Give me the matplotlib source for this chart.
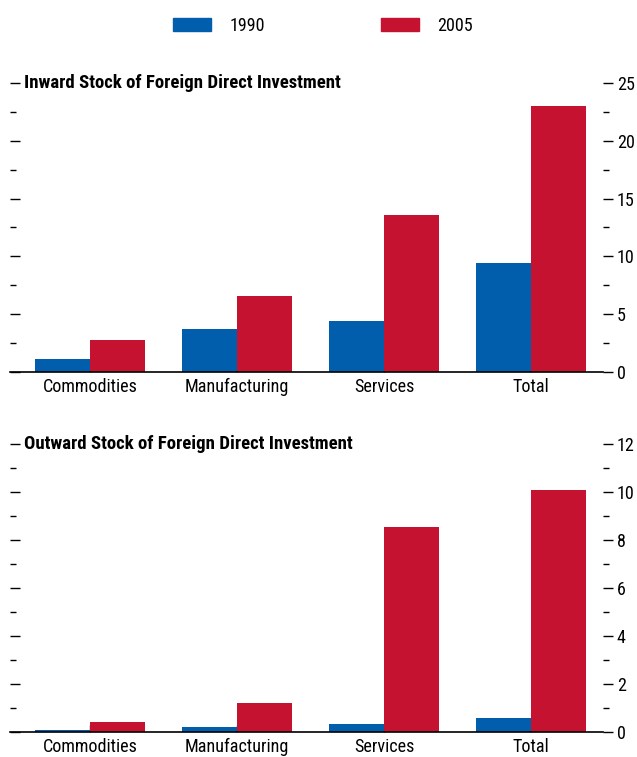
"""FDI stock bar chart, 1990 vs 2005"""
import matplotlib

matplotlib.use("Agg")
import matplotlib.pyplot as plt
import numpy as np
from matplotlib.lines import TICKRIGHT
from matplotlib.patches import Patch
from matplotlib.ticker import MultipleLocator, NullFormatter

CATEGORIES = ["Commodities", "Manufacturing", "Services", "Total"]
YEARS = ["1990", "2005"]
INWARD_1990 = [1.1, 3.7, 4.4, 9.4]
INWARD_2005 = [2.75, 6.55, 13.6, 23.0]
OUTWARD_1990 = [0.07, 0.2, 0.33, 0.57]
OUTWARD_2005 = [0.4, 1.2, 8.55, 10.1]

BLUE = "#005EAC"
RED = "#C41230"
FONT = ["Roboto Condensed", "Liberation Sans Narrow", "DejaVu Sans"]

plt.rcParams["font.family"] = FONT


def draw_panel(ax, v1990, v2005, title, ymax, major):
    x = np.arange(len(CATEGORIES))
    width = 0.375
    ax.bar(x - width / 2, v1990, width, color=BLUE, zorder=2)
    ax.bar(x + width / 2, v2005, width, color=RED, zorder=2)
    ax.set_xlim(-0.545, 3.49)
    ax.set_ylim(0, ymax)
    for side in ("left", "right", "top"):
        ax.spines[side].set_visible(False)
    ax.spines["bottom"].set_linewidth(1.2)
    ax.set_xticks(x)
    ax.set_xticklabels(CATEGORIES, fontsize=13.1)
    ax.tick_params(axis="x", direction="in", length=5, width=1, pad=4, color="#222222")
    ax.yaxis.set_major_locator(MultipleLocator(major))
    ax.yaxis.set_minor_locator(MultipleLocator(major / 2))
    ax.yaxis.set_minor_formatter(NullFormatter())
    ax.tick_params(axis="y", which="both", left=True, right=True, labelleft=False,
                   labelright=True, labelsize=13, width=1)
    ax.tick_params(axis="y", which="major", length=7, pad=3)
    ax.tick_params(axis="y", which="minor", length=4)
    # left ticks point into the plot, right ones point out
    for tick in ax.yaxis.get_major_ticks() + ax.yaxis.get_minor_ticks():
        tick.tick1line.set_marker(TICKRIGHT)
    ax.text(0.024, 1.0, title, transform=ax.transAxes, fontsize=13.5,
            fontweight="bold", va="center", ha="left")


fig = plt.figure(figsize=(6.37, 7.57), dpi=100)
ax1 = fig.add_axes([0.0157, 0.5086, 0.931, 0.3818])
ax2 = fig.add_axes([0.0157, 0.0330, 0.931, 0.3805])

draw_panel(ax1, INWARD_1990, INWARD_2005, "Inward Stock of Foreign Direct Investment", 25, 5)
draw_panel(ax2, OUTWARD_1990, OUTWARD_2005, "Outward Stock of Foreign Direct Investment", 12, 2)

handles = [Patch(color=BLUE, label=YEARS[0]), Patch(color=RED, label=YEARS[1])]
fig.legend(handles=handles, loc="center", bbox_to_anchor=(0.507, 0.966), ncol=2,
           frameon=False, fontsize=13, handlelength=2.1, handleheight=0.8,
           handletextpad=1.05, columnspacing=6.4)

fig.savefig("out.png", dpi=100)
